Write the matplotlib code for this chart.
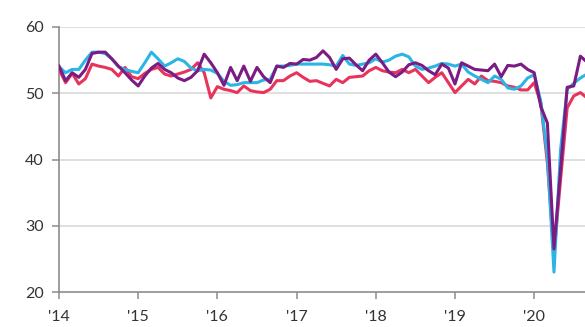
import matplotlib
matplotlib.use("Agg")
import matplotlib.pyplot as plt
import numpy as np

plt.rcParams['font.family'] = ['Lato', 'DejaVu Sans']

# Monthly index values, Jan 2014 .. Sep 2020
red = [53.6, 51.6, 53.0, 51.4, 52.2, 54.4, 54.1, 53.9, 53.6, 52.6, 53.9, 52.5,
       52.2, 53.0, 53.6, 53.9, 52.9, 52.6, 52.9, 53.2, 53.6, 54.6, 53.1, 49.3,
       51.0, 50.6, 50.4, 50.1, 51.1, 50.4, 50.2, 50.1, 50.6, 51.9, 51.9, 52.6,
       53.1, 52.4, 51.8, 51.9, 51.5, 51.1, 52.1, 51.6, 52.4, 52.5, 52.6, 53.4,
       53.9, 53.4, 53.2, 53.1, 53.6, 53.1, 53.6, 52.6, 51.6, 52.4, 53.1, 51.6,
       50.1, 51.1, 52.1, 51.4, 52.6, 51.9, 51.8, 51.6, 51.1, 50.9, 50.5, 50.5,
       51.6, 48.5, 39.5, 25.8, 37.0, 47.8, 49.6, 50.1, 49.3]
cyan = [54.0, 53.1, 53.6, 53.6, 55.0, 56.2, 56.2, 56.0, 55.2, 54.0, 53.6, 53.3,
        53.1, 54.6, 56.2, 55.2, 54.1, 54.6, 55.2, 54.8, 53.8, 53.4, 53.6, 53.5,
        53.0, 51.8, 51.2, 51.3, 51.6, 51.6, 51.6, 52.0, 52.1, 54.1, 54.1, 54.2,
        54.4, 54.4, 54.4, 54.4, 54.4, 54.3, 54.1, 55.7, 54.4, 54.2, 54.4, 54.6,
        55.2, 54.7, 55.0, 55.6, 55.9, 55.5, 54.1, 53.6, 53.8, 54.1, 54.5, 54.4,
        54.1, 54.4, 53.2, 52.6, 52.1, 51.6, 52.6, 52.1, 50.8, 50.6, 51.1, 52.3,
        52.8, 48.8, 40.5, 23.0, 41.5, 50.6, 51.5, 52.3, 52.9]
purple = [54.1, 51.9, 53.1, 52.4, 53.6, 56.0, 56.2, 56.2, 55.2, 54.1, 53.1, 52.0,
          51.1, 52.6, 53.8, 54.5, 53.6, 53.1, 52.3, 51.9, 52.4, 53.4, 55.9, 54.6,
          53.1, 51.2, 53.9, 51.9, 54.1, 51.8, 53.9, 52.5, 51.6, 54.1, 53.9, 54.5,
          54.4, 55.1, 55.0, 55.4, 56.4, 55.4, 53.6, 55.2, 55.3, 54.3, 53.4, 55.0,
          55.9, 54.6, 53.2, 52.5, 53.2, 54.3, 54.6, 54.2, 53.4, 52.8, 54.4, 53.8,
          51.4, 54.6, 54.1, 53.6, 53.5, 53.4, 54.4, 52.5, 54.2, 54.1, 54.4, 53.6,
          53.1, 48.0, 45.5, 26.5, 38.5, 50.9, 51.1, 55.6, 54.7]

year_labels = ["'14", "'15", "'16", "'17", "'18", "'19", "'20"]
y_ticks = [20, 30, 40, 50, 60]

months = np.arange(len(red))

fig = plt.figure(figsize=(5.85, 3.27), dpi=100)
ax = fig.add_axes([59 / 585, 35 / 327, 1 - 59 / 585, 265 / 327])

ax.plot(months, red, color="#e8345c", lw=2.2, solid_joinstyle="round", zorder=3)
ax.plot(months, cyan, color="#2bb5e6", lw=2.2, solid_joinstyle="round", zorder=4)
ax.plot(months, purple, color="#7a1c84", lw=2.2, solid_joinstyle="round", zorder=5)

ax.set_xlim(0, 79.7)
ax.set_ylim(20, 60)
ax.set_yticks(y_ticks)
ax.set_xticks(np.arange(len(year_labels)) * 12)
ax.set_xticklabels(year_labels)

for v in y_ticks[1:]:
    ax.axhline(v, color="#dcdcdc", lw=1.3, zorder=1)

for s in ["top", "right"]:
    ax.spines[s].set_visible(False)
for s in ["left", "bottom"]:
    ax.spines[s].set_color("#8c8c8c")
    ax.spines[s].set_linewidth(1.2)

ax.tick_params(axis="both", colors="#8c8c8c", length=5, width=1.1,
               labelcolor="#333333", labelsize=11.5)
ax.tick_params(axis="y", pad=6)
ax.tick_params(axis="x", pad=8)

fig.savefig("out.png", dpi=100)
